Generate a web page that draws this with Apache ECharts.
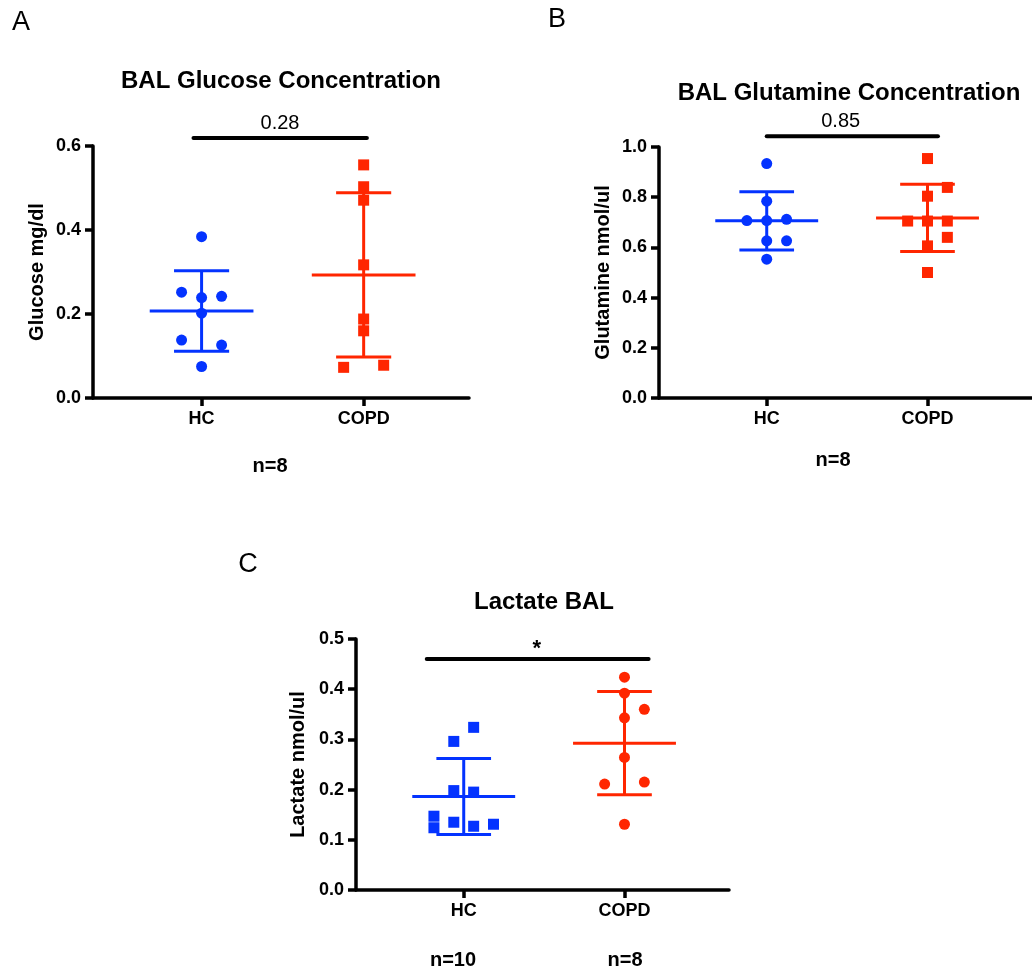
<!DOCTYPE html>
<html>
<head>
<meta charset="utf-8">
<script src="https://cdn.jsdelivr.net/npm/echarts@6/dist/echarts.min.js"></script>
<style>
  html, body { margin: 0; padding: 0; background: #fff; }
  #chart { width: 1032px; height: 971px; }
</style>
</head>
<body>
<div id="chart"></div>
<script>
// Groups on every panel
const groups = ['HC', 'COPD'];

// Panel A: BAL glucose (mg/dl); "spread" = horizontal slot of each dot in its column
const glucoseHC = [0.384, 0.252, 0.239, 0.242, 0.202, 0.138, 0.126, 0.075];
const glucoseHCSpread = [0, -1, 0, 1, 0, -1, 1, 0];
const glucoseCOPD = [0.555, 0.503, 0.471, 0.317, 0.188, 0.160, 0.073, 0.078];
const glucoseCOPDSpread = [0, 0, 0, 0, 0, 0, -1, 1];

// Panel B: BAL glutamine (nmol/ul)
const glutamineHC = [0.934, 0.784, 0.707, 0.707, 0.712, 0.626, 0.626, 0.553];
const glutamineHCSpread = [0, 0, -1, 0, 1, 0, 1, 0];
const glutamineCOPD = [0.954, 0.839, 0.804, 0.705, 0.705, 0.705, 0.640, 0.606, 0.500];
const glutamineCOPDSpread = [0, 1, 0, -1, 0, 1, 1, 0, 0];

// Panel C: BAL lactate (nmol/ul)
const lactateHC = [0.324, 0.296, 0.198, 0.195, 0.147, 0.135, 0.131, 0.127, 0.124];
const lactateHCSpread = [0.5, -0.5, -0.5, 0.5, -1.5, -0.5, 1.5, 0.5, -1.5];
const lactateCOPD = [0.424, 0.392, 0.360, 0.343, 0.264, 0.211, 0.215, 0.131];
const lactateCOPDSpread = [0, 0, 1, 0, 0, -1, 1, 0];

// Y-axis ranges
const glucoseTicks = { max: 0.6, step: 0.2 };
const glutamineTicks = { max: 1.0, step: 0.2 };
const lactateTicks = { max: 0.5, step: 0.1 };

// Comparison bars: [from, to] on the group axis, level, text
const glucoseCompare = { from: 0.95, to: 2.02, level: 0.619, text: '0.28', textAt: 1.484 };
const glutamineCompare = { from: 1.0, to: 2.065, level: 1.043, text: '0.85', textAt: 1.46 };
const lactateCompare = { from: 0.77, to: 2.15, level: 0.46, text: '*', textAt: 1.455 };

const BLUE = '#0433ff';
const RED = '#ff2600';
const FONT = '"Liberation Sans", Arial, Helvetica, sans-serif';
const SLOT = 0.1235;   // dot spacing inside a column, in group-axis units
const MEAN_HALF = 0.32;
const CAP_HALF = 0.17;

function mean(a) { return a.reduce((s, v) => s + v, 0) / a.length; }
function sd(a) {
  const m = mean(a);
  return Math.sqrt(a.reduce((s, v) => s + (v - m) * (v - m), 0) / (a.length - 1));
}

const panels = [
  { grid: { left: 93, top: 146, width: 376, height: 252 }, ticks: glucoseTicks, name: 'Glucose mg/dl', nameGap: 46,
    sets: [
      { vals: glucoseHC, spread: glucoseHCSpread, color: BLUE, symbol: 'circle' },
      { vals: glucoseCOPD, spread: glucoseCOPDSpread, color: RED, symbol: 'rect' }
    ], compare: glucoseCompare, textFont: 'normal 20px ' + FONT, textLift: 15 },
  { grid: { left: 659, top: 147, width: 376, height: 251 }, ticks: glutamineTicks, name: 'Glutamine nmol/ul', nameGap: 46,
    sets: [
      { vals: glutamineHC, spread: glutamineHCSpread, color: BLUE, symbol: 'circle' },
      { vals: glutamineCOPD, spread: glutamineCOPDSpread, color: RED, symbol: 'rect' }
    ], compare: glutamineCompare, textFont: 'normal 20px ' + FONT, textLift: 15 },
  { grid: { left: 356, top: 639, width: 373, height: 251 }, ticks: lactateTicks, name: 'Lactate nmol/ul', nameGap: 48,
    sets: [
      { vals: lactateHC, spread: lactateHCSpread, color: BLUE, symbol: 'rect' },
      { vals: lactateCOPD, spread: lactateCOPDSpread, color: RED, symbol: 'circle' }
    ], compare: lactateCompare, textFont: 'bold 22px ' + FONT, textLift: 10 }
];

const grid = [], xAxis = [], yAxis = [], series = [];

panels.forEach((p, i) => {
  grid.push(Object.assign({ containLabel: false }, p.grid));
  xAxis.push({
    type: 'value', gridIndex: i, min: 0.33, max: 2.65,
    axisLine: { show: true, onZero: false, lineStyle: { color: '#000', width: 3.5 } },
    axisTick: { show: true, customValues: [1, 2], length: 8, lineStyle: { color: '#000', width: 3.5 } },
    axisLabel: { customValues: [1, 2], formatter: v => groups[Math.round(v) - 1] || '', margin: 12,
      color: '#000', fontFamily: FONT, fontWeight: 'bold', fontSize: 18 },
    splitLine: { show: false }
  });
  yAxis.push({
    type: 'value', gridIndex: i, min: 0, max: p.ticks.max, interval: p.ticks.step,
    name: p.name, nameLocation: 'middle', nameGap: p.nameGap,
    nameTextStyle: { color: '#000', fontFamily: FONT, fontWeight: 'bold', fontSize: 20 },
    axisLine: { show: true, onZero: false, lineStyle: { color: '#000', width: 3.5 } },
    axisTick: { show: true, length: 8, lineStyle: { color: '#000', width: 3.5 } },
    axisLabel: { formatter: v => v.toFixed(1), margin: 12, color: '#000', fontFamily: FONT, fontWeight: 'bold', fontSize: 18 },
    splitLine: { show: false }
  });

  p.sets.forEach((s, gi) => {
    const cx = gi + 1;
    // mean ± SD
    series.push({
      type: 'custom', xAxisIndex: i, yAxisIndex: i, z: 3, silent: true, clip: false,
      data: [[cx, mean(s.vals), sd(s.vals)]],
      encode: { x: 0, y: 1 },
      renderItem: (params, api) => {
        const x = api.value(0), m = api.value(1), d = api.value(2);
        const segs = [
          [[x - MEAN_HALF, m], [x + MEAN_HALF, m]],
          [[x, m - d], [x, m + d]],
          [[x - CAP_HALF, m + d], [x + CAP_HALF, m + d]],
          [[x - CAP_HALF, m - d], [x + CAP_HALF, m - d]]
        ];
        return {
          type: 'group',
          children: segs.map(([a, b]) => {
            const p1 = api.coord(a), p2 = api.coord(b);
            return { type: 'line', shape: { x1: p1[0], y1: p1[1], x2: p2[0], y2: p2[1] },
              style: { stroke: s.color, lineWidth: 3 } };
          })
        };
      }
    });
    // individual values
    series.push({
      type: 'scatter', xAxisIndex: i, yAxisIndex: i, z: 4, silent: true,
      symbol: s.symbol, symbolSize: 11,
      itemStyle: { color: s.color, opacity: 1 },
      data: s.vals.map((v, k) => [cx + s.spread[k] * SLOT, v])
    });
  });

  // comparison bar with its label
  const c = p.compare;
  series.push({
    type: 'custom', xAxisIndex: i, yAxisIndex: i, z: 5, silent: true, clip: false,
    data: [[c.from, c.level, c.to, c.textAt]],
    encode: { x: 0, y: 1 },
    renderItem: (params, api) => {
      const a = api.coord([api.value(0), api.value(1)]);
      const b = api.coord([api.value(2), api.value(1)]);
      const t = api.coord([api.value(3), api.value(1)]);
      return {
        type: 'group',
        children: [
          { type: 'line', shape: { x1: a[0], y1: a[1], x2: b[0], y2: b[1] },
            style: { stroke: '#000', lineWidth: 4, lineCap: 'round' } },
          { type: 'text', x: t[0], y: t[1] - p.textLift,
            style: { text: c.text, font: p.textFont, fill: '#000', align: 'center', verticalAlign: 'middle' } }
        ]
      };
    }
  });
});

function label(text, x, y, font) {
  return { type: 'text', x, y, silent: true,
    style: { text, font, fill: '#000', align: 'center', verticalAlign: 'middle' } };
}

const graphic = [
  label('A', 21, 23, 'normal 27px ' + FONT),
  label('B', 557, 20, 'normal 27px ' + FONT),
  label('C', 248, 565, 'normal 27px ' + FONT),
  label('BAL Glucose Concentration', 281, 81, 'bold 24px ' + FONT),
  label('BAL Glutamine Concentration', 849, 93, 'bold 24px ' + FONT),
  label('Lactate BAL', 544, 602, 'bold 24px ' + FONT),
  label('n=8', 270, 466, 'bold 20px ' + FONT),
  label('n=8', 833, 460, 'bold 20px ' + FONT),
  label('n=10', 453, 960, 'bold 20px ' + FONT),
  label('n=8', 625, 960, 'bold 20px ' + FONT)
];

const chart = echarts.init(document.getElementById('chart'), null, { renderer: 'canvas' });
chart.setOption({
  animation: false,
  backgroundColor: '#fff',
  grid, xAxis, yAxis, series, graphic
});
</script>
</body>
</html>
